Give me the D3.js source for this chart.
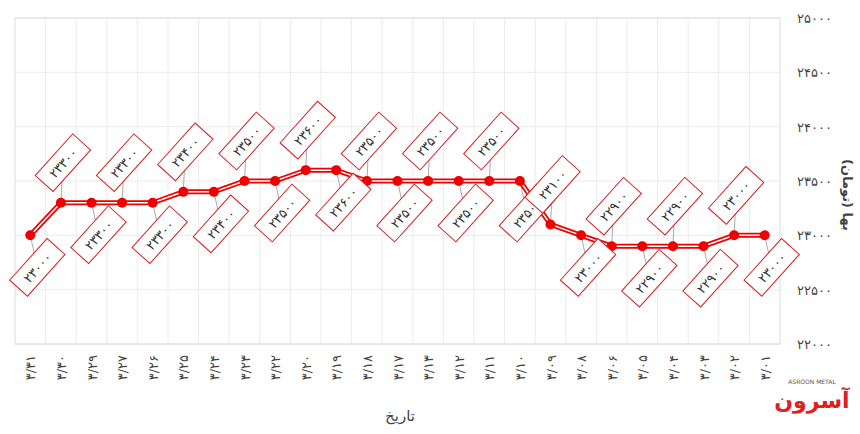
<!DOCTYPE html>
<html>
<head>
<meta charset="utf-8">
<script src="https://cdn.jsdelivr.net/npm/d3@7/dist/d3.min.js"></script>
<style>
  body { margin: 0; background: #fff; font-family: "DejaVu Sans", "Noto Sans", sans-serif; }
</style>
</head>
<body>
<svg id="chart" width="860" height="434"></svg>
<script>
// dates, left to right as drawn (axis is reversed)
const dates = ['3/31', '3/30', '3/29', '3/27', '3/26', '3/25', '3/24', '3/23', '3/22', '3/20',
  '3/19', '3/18', '3/17', '3/13', '3/12', '3/11', '3/10', '3/09', '3/08', '3/06',
  '3/05', '3/04', '3/03', '3/02', '3/01'];
const prices = [23000, 23300, 23300, 23300, 23300, 23400, 23400, 23500, 23500, 23600,
  23600, 23500, 23500, 23500, 23500, 23500, 23500, 23100, 23000, 22900,
  22900, 22900, 22900, 23000, 23000];
const yTicks = [22000, 22500, 23000, 23500, 24000, 24500, 25000];

const fa = (s) => String(s).replace(/[0-9]/g, (d) => '۰۱۲۳۴۵۶۷۸۹'[d]);

const svg = d3.select('#chart');
const m = {left: 15, right: 780, top: 18, bottom: 344};
const red = '#ee0000';

const x = d3.scaleBand().domain(dates).range([m.left, m.right]);
const y = d3.scaleLinear().domain([22000, 25000]).range([m.bottom, m.top]);

// grid
svg.append('g').selectAll('line').data(dates.slice(1))
  .enter().append('line')
  .attr('x1', (d) => x(d)).attr('x2', (d) => x(d))
  .attr('y1', m.top).attr('y2', m.bottom)
  .attr('stroke', '#ececec');
svg.append('g').selectAll('line').data(yTicks)
  .enter().append('line')
  .attr('x1', m.left).attr('x2', m.right)
  .attr('y1', (d) => y(d)).attr('y2', (d) => y(d))
  .attr('stroke', '#ececec');
svg.append('rect')
  .attr('x', m.left).attr('y', m.top)
  .attr('width', m.right - m.left).attr('height', m.bottom - m.top)
  .attr('fill', 'none').attr('stroke', '#dcdcdc');

// y axis on the right
svg.append('g').selectAll('text').data(yTicks)
  .enter().append('text')
  .attr('x', 832).attr('y', (d) => y(d) + 5)
  .attr('text-anchor', 'end')
  .attr('font-size', 13).attr('fill', '#444')
  .text((d) => fa(d));

svg.append('text')
  .attr('transform', 'translate(843,195) rotate(90)')
  .attr('text-anchor', 'middle')
  .attr('font-size', 13).attr('font-weight', 'bold').attr('fill', '#444')
  .text('بها (تومان)');

// x labels, read bottom to top
svg.append('g').selectAll('text').data(dates)
  .enter().append('text')
  .attr('transform', (d) => `translate(${x(d) + x.bandwidth() / 2 + 5},355) rotate(-90)`)
  .attr('text-anchor', 'end')
  .attr('direction', 'ltr').attr('unicode-bidi', 'bidi-override')
  .attr('font-size', 13).attr('fill', '#444')
  .text((d) => fa(d));

svg.append('text')
  .attr('x', 400).attr('y', 421)
  .attr('text-anchor', 'middle')
  .attr('font-size', 15).attr('fill', '#444')
  .text('تاریخ');

const pts = dates.map((d, i) => ({d, v: prices[i], i,
  px: x(d) + x.bandwidth() / 2, py: y(prices[i])}));
const off = (p) => p.i % 2 === 1 ? [2, -40] : [7, 32];

// leader lines
svg.append('g').selectAll('line').data(pts)
  .enter().append('line')
  .attr('x1', (p) => p.px).attr('y1', (p) => p.py)
  .attr('x2', (p) => p.px + off(p)[0] * 0.6).attr('y2', (p) => p.py + off(p)[1] * 0.6)
  .attr('stroke', '#aaa').attr('stroke-width', 1);

// line: red with white core
const line = d3.line().x((p) => p.px).y((p) => p.py);
svg.append('path').datum(pts).attr('d', line)
  .attr('fill', 'none').attr('stroke', red).attr('stroke-width', 5);
svg.append('path').datum(pts).attr('d', line)
  .attr('fill', 'none').attr('stroke', '#fff').attr('stroke-width', 1.5);
svg.append('g').selectAll('circle').data(pts)
  .enter().append('circle')
  .attr('cx', (p) => p.px).attr('cy', (p) => p.py).attr('r', 5)
  .attr('fill', red);

// data label boxes
const labels = svg.append('g').selectAll('g').data(pts)
  .enter().append('g')
  .attr('transform', (p) => `translate(${p.px + off(p)[0]},${p.py + off(p)[1]}) rotate(-48)`);
labels.append('rect')
  .attr('x', -28).attr('y', -12).attr('width', 56).attr('height', 24)
  .attr('fill', '#fff').attr('stroke', '#d42020').attr('stroke-width', 1);
labels.append('text')
  .attr('text-anchor', 'middle').attr('y', 5)
  .attr('direction', 'ltr').attr('unicode-bidi', 'bidi-override')
  .attr('font-size', 13).attr('fill', '#333')
  .text((p) => fa(p.v));

// logo
svg.append('text')
  .attr('x', 812).attr('y', 408).attr('text-anchor', 'middle')
  .attr('font-size', 22).attr('font-weight', 'bold').attr('fill', '#e02020')
  .text('آسرون');
svg.append('text')
  .attr('x', 812).attr('y', 384).attr('text-anchor', 'middle')
  .attr('font-size', 6).attr('fill', '#555')
  .text('ASROON METAL');
</script>
</body>
</html>
